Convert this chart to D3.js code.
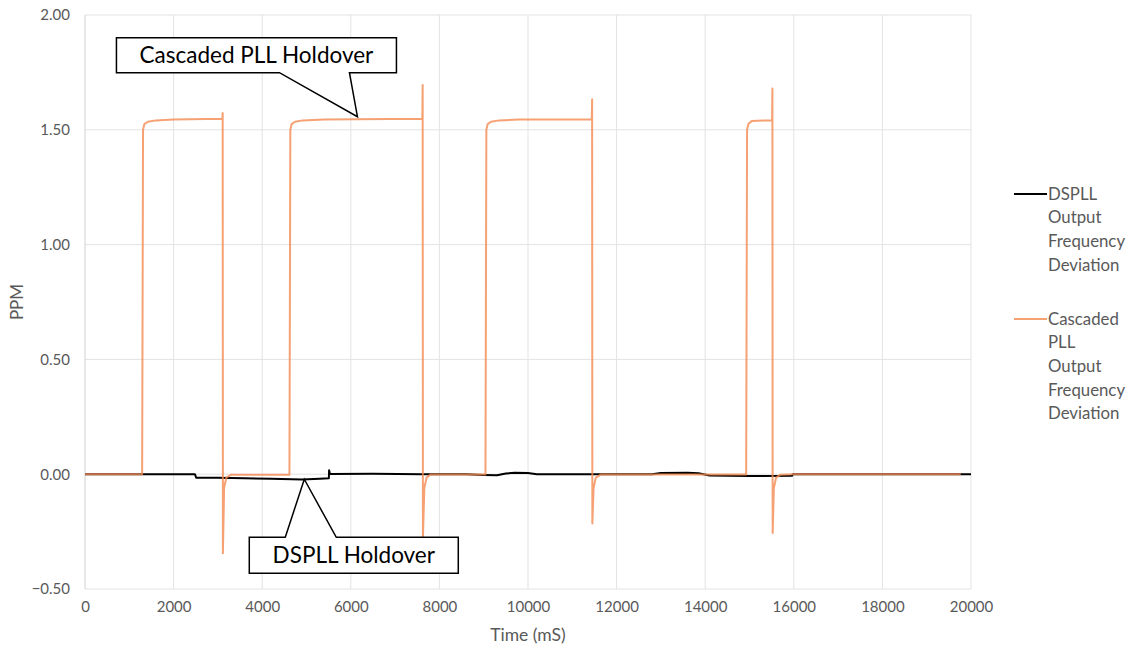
<!DOCTYPE html>
<html>
<head>
<meta charset="utf-8">
<script src="https://cdn.jsdelivr.net/npm/d3@7"></script>
<style>
  html, body { margin: 0; padding: 0; background: #fff; }
  svg { display: block; font-family: Lato, "Open Sans", sans-serif; }
</style>
</head>
<body>
<svg id="chart" width="1134" height="650"></svg>
<script>
// Output frequency deviation (PPM) over time (ms)
const dspllTime = [0, 2480, 2510, 3000, 3600, 4200, 4900, 5300, 5505, 5510, 5530, 6500, 7600, 8600, 9000, 9300, 9500, 9700, 10000, 10200, 11500, 12800, 13000, 13600, 13850, 14100, 15000, 15960, 15980, 20000];
const dspllPpm  = [0, 0, -0.015, -0.016, -0.018, -0.020, -0.023, -0.020, -0.018, 0.017, 0.001, 0.002, 0.000, 0.000, -0.003, -0.005, 0.003, 0.006, 0.005, 0.000, 0.000, 0.000, 0.005, 0.006, 0.004, -0.006, -0.008, -0.007, 0.000, 0.000];

const cascadedTime = [
  0, 1290, 1310, 1340, 1420, 1600, 2000, 3100, 3108, 3113, 3140, 3190, 3300,
  4615, 4635, 4665, 4740, 4920, 5400, 7615, 7622, 7628, 7660, 7710, 7800,
  9040, 9060, 9090, 9165, 9350, 9800, 11440, 11447, 11453, 11480, 11530, 11650,
  14925, 14945, 14975, 15050, 15510, 15517, 15523, 15550, 15600, 15700, 15980, 19770
];
const cascadedPpm = [
  0, 0, 1.50, 1.525, 1.535, 1.541, 1.545, 1.548, 1.573, -0.344, -0.06, -0.015, -0.002,
  -0.002, 1.50, 1.525, 1.535, 1.541, 1.545, 1.548, 1.695, -0.275, -0.06, -0.015, -0.001,
  -0.001, 1.50, 1.525, 1.535, 1.541, 1.545, 1.546, 1.633, -0.215, -0.06, -0.015, -0.001,
  -0.001, 1.50, 1.525, 1.538, 1.542, 1.680, -0.256, -0.06, -0.015, -0.002, 0, 0
];

const xTicks = [0, 2000, 4000, 6000, 8000, 10000, 12000, 14000, 16000, 18000, 20000];
const yTicks = [-0.5, 0, 0.5, 1.0, 1.5, 2.0];

const seriesColors = ["#000000", "#F38A50"];

// Callout anchors (time, ppm) and texts
const calloutText = ["Cascaded PLL Holdover", "DSPLL Holdover"];
const calloutTime = [6150, 4950];
const calloutPpm  = [1.557, -0.022];

const legendWords = [["DSPLL", "Output", "Frequency", "Deviation"], ["Cascaded", "PLL", "Output", "Frequency", "Deviation"]];

const svg = d3.select("#chart");
const margin = { left: 85, right: 163, top: 15, bottom: 61 };
const W = 1134, H = 650;

const x = d3.scaleLinear().domain([0, 20000]).range([margin.left, W - margin.right]);
const y = d3.scaleLinear().domain([-0.5, 2.0]).range([H - margin.bottom, margin.top]);

const textColor = "#595959";
const gridColor = "#e3e3e3";
const orangeOpacity = 0.8;

// gridlines
svg.append("g")
  .selectAll("line")
  .data(yTicks)
  .join("line")
  .attr("x1", x(0)).attr("x2", x(20000))
  .attr("y1", d => y(d)).attr("y2", d => y(d))
  .attr("stroke", gridColor).attr("stroke-width", 1);

svg.append("g")
  .selectAll("line")
  .data(xTicks.slice(1))
  .join("line")
  .attr("x1", d => x(d)).attr("x2", d => x(d))
  .attr("y1", y(2.0)).attr("y2", y(-0.5))
  .attr("stroke", gridColor).attr("stroke-width", 1);

// left axis line
svg.append("line")
  .attr("x1", x(0)).attr("x2", x(0))
  .attr("y1", y(2.0)).attr("y2", y(-0.5))
  .attr("stroke", "#d0d0d0").attr("stroke-width", 1);

// axes (labels only)
const yAxis = d3.axisLeft(y).tickValues(yTicks).tickFormat(d3.format(".2f")).tickSize(0).tickPadding(15);
svg.append("g")
  .attr("transform", `translate(${x(0)},0)`)
  .call(yAxis)
  .call(g => g.select(".domain").remove())
  .call(g => g.selectAll("text").attr("fill", textColor).style("font-size", "15px").style("font-family", "Lato, sans-serif"));

const xAxis = d3.axisBottom(x).tickValues(xTicks).tickFormat(d3.format("d")).tickSize(0).tickPadding(12);
svg.append("g")
  .attr("transform", `translate(0,${y(-0.5)})`)
  .call(xAxis)
  .call(g => g.select(".domain").remove())
  .call(g => g.selectAll("text").attr("fill", textColor).style("font-size", "15px").style("font-family", "Lato, sans-serif"));

// axis titles
svg.append("text")
  .attr("x", (x(0) + x(20000)) / 2).attr("y", 641)
  .attr("text-anchor", "middle").attr("fill", textColor)
  .style("font-size", "17.5px").text("Time (mS)");

svg.append("text")
  .attr("transform", `translate(23,${(y(2) + y(-0.5)) / 2}) rotate(-90)`)
  .attr("text-anchor", "middle").attr("fill", textColor)
  .style("font-size", "17px").text("PPM");

// series lines
const line = d3.line().x(d => x(d[0])).y(d => y(d[1]));

const dspll = dspllTime.map((t, i) => [t, dspllPpm[i]]);
const cascaded = cascadedTime.map((t, i) => [t, cascadedPpm[i]]);

svg.append("path")
  .datum(dspll)
  .attr("d", line)
  .attr("fill", "none")
  .attr("stroke", seriesColors[0])
  .attr("stroke-width", 2)
  .attr("stroke-linejoin", "round");

svg.append("path")
  .datum(cascaded)
  .attr("d", line)
  .attr("fill", "none")
  .attr("stroke", seriesColors[1])
  .attr("stroke-opacity", orangeOpacity)
  .attr("stroke-width", 2)
  .attr("stroke-linejoin", "round");

// callouts: box with a wedge pointing at the anchor
function callout(i, box, wedge) {
  const tx = x(calloutTime[i]), ty = y(calloutPpm[i]);
  const L = tx + box[0], R = tx + box[1], T = ty + box[2], B = ty + box[3];
  const wa = tx + wedge[0], wb = tx + wedge[1];
  let pts;
  if (B < ty) {
    // box above the anchor: wedge leaves from bottom edge
    pts = [[L, T], [R, T], [R, B], [wb, B], [tx, ty], [wa, B], [L, B]];
  } else {
    // box below the anchor: wedge leaves from top edge
    pts = [[L, T], [wa, T], [tx, ty], [wb, T], [R, T], [R, B], [L, B]];
  }
  const g = svg.append("g");
  g.append("path")
    .attr("d", d3.line()(pts) + "Z")
    .attr("fill", "#fff").attr("stroke", "#000").attr("stroke-width", 1.5)
    .attr("stroke-linejoin", "miter");
  g.append("text")
    .attr("x", (L + R) / 2).attr("y", (T + B) / 2)
    .attr("dy", "0.35em").attr("text-anchor", "middle")
    .attr("fill", "#000").style("font-size", "22.5px")
    .text(calloutText[i]);
}
callout(0, [-241, 39, -79, -44], [-78, -8]);
callout(1, [-55, 154, 58, 94], [-19, 32]);

// legend
const legend = svg.append("g");
const legendTop = [194, 319];
legendWords.forEach((words, i) => {
  legend.append("line")
    .attr("x1", 1014).attr("x2", 1047)
    .attr("y1", legendTop[i]).attr("y2", legendTop[i])
    .attr("stroke", seriesColors[i])
    .attr("stroke-opacity", i === 1 ? orangeOpacity : 1)
    .attr("stroke-width", 2);
  const t = legend.append("text")
    .attr("x", 1048).attr("y", legendTop[i])
    .attr("fill", textColor).style("font-size", "16.8px");
  words.forEach((w, k) => {
    t.append("tspan").attr("x", 1048).attr("y", legendTop[i] + k * 23.6).attr("dy", "0.35em").text(w);
  });
});
</script>
</body>
</html>
